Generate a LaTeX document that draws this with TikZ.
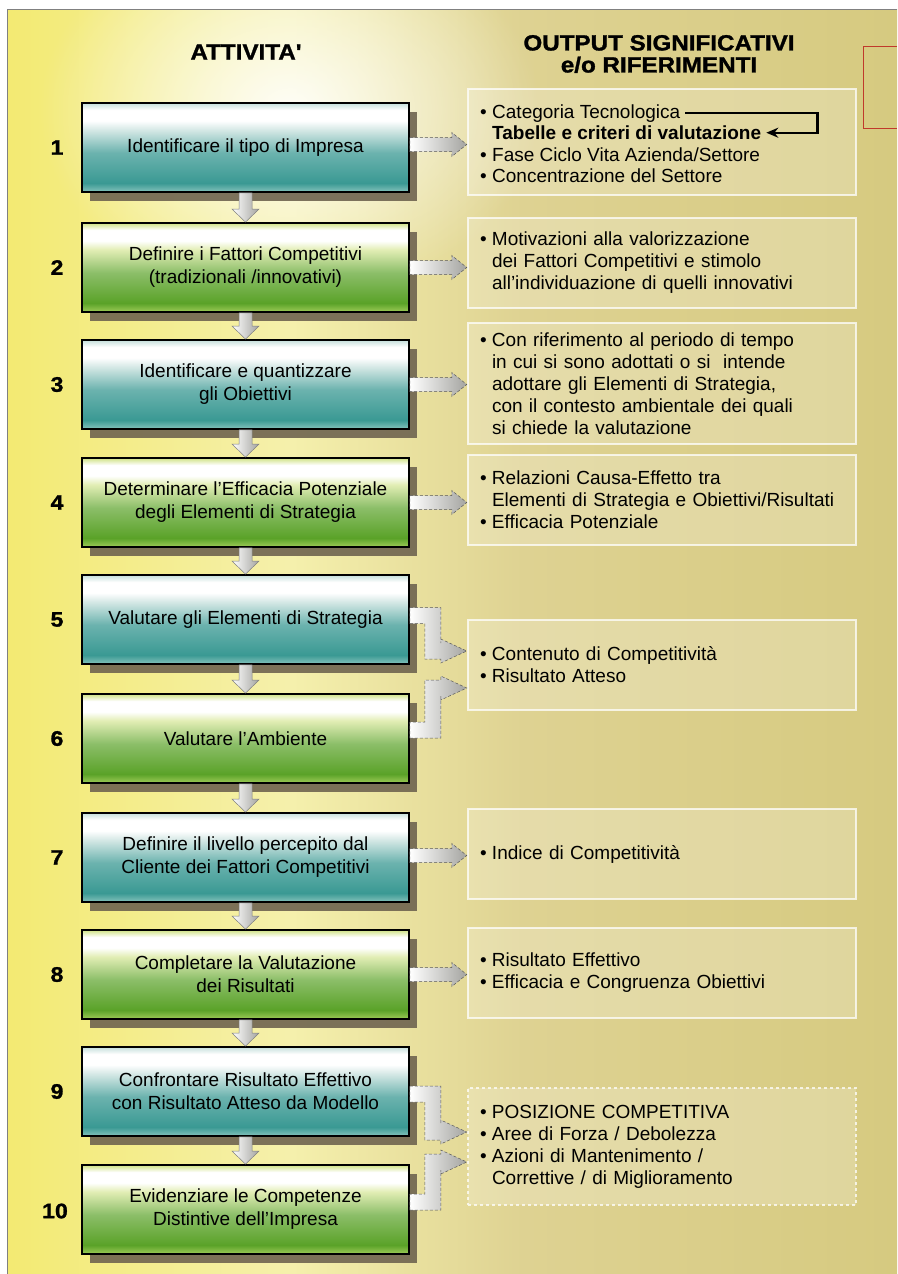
\documentclass[tikz,border=0pt]{standalone}
\usepackage{fontspec}
\setmainfont{Liberation Sans}
\newfontfamily\headfont[FakeStretch=1.1, FakeBold=1.3]{Liberation Sans}
\usepackage{tikz}
\usepackage{xcolor}
\usetikzlibrary{shapes, positioning, calc, shadows, fadings, arrows.meta}

\definecolor{bgL}{HTML}{F3EA72}
\definecolor{bgM}{HTML}{F5F0AC}
\definecolor{bgK}{HTML}{DED292}
\definecolor{bgR}{HTML}{D6CA80}
\definecolor{tealD}{HTML}{3A9993}
\definecolor{tealM}{HTML}{86C3BC}
\definecolor{tealL}{HTML}{C4DFDB}
\definecolor{greenD}{HTML}{5AA228}
\definecolor{greenM}{HTML}{9ECB58}
\definecolor{greenL}{HTML}{CFE283}
\definecolor{shadowc}{HTML}{6F6450}
\definecolor{arrowg}{HTML}{A4A4A0}
\definecolor{redbox}{HTML}{C0392B}

\pgfdeclarehorizontalshading{bgshade}{100bp}{color(0bp)=(bgL); color(25bp)=(bgL); color(41bp)=(bgM); color(54bp)=(bgK); color(75bp)=(bgR); color(100bp)=(bgR)}
\pgfdeclareverticalshading{tealshade}{100bp}{color(0bp)=(tealM); color(25bp)=(tealM); color(30bp)=(tealD); color(47bp)=(tealD!75!white); color(60bp)=(tealL!70!white); color(65bp)=(white); color(71bp)=(white); color(75bp)=(tealL); color(100bp)=(tealL)}
\pgfdeclareverticalshading{greenshade}{100bp}{color(0bp)=(greenM); color(25bp)=(greenM); color(30bp)=(greenD); color(47bp)=(greenD!70!white); color(60bp)=(greenL!60!white); color(65bp)=(white); color(71bp)=(white); color(75bp)=(greenL); color(100bp)=(greenL)}
\tikzfading[name=glowfade, inner color=transparent!0, outer color=transparent!100]

\newcommand{\otfont}{\fontsize{19}{22}\selectfont}
\newcommand{\itm}{\makebox[12pt][l]{\textbullet}}
\newcommand{\cnt}{\hspace*{12pt}}

\tikzset{
  act/.style={draw=black, line width=1.8pt, minimum width=327pt, minimum height=89pt, align=center,
    font=\fontsize{19}{23}\selectfont, shade,
    drop shadow={shadow xshift=8pt, shadow yshift=-9pt, fill=shadowc, opacity=0.9}},
  tealbox/.style={act, shading=tealshade},
  greenbox/.style={act, shading=greenshade},
  num/.style={font=\headfont\fontsize{21}{24}\bfseries\selectfont},
  head/.style={font=\headfont\fontsize{22}{22}\bfseries\selectfont, align=center},
  outbox/.style={draw=white, draw opacity=0.75, line width=2.5pt, fill=white, fill opacity=0.22,
    text opacity=1, minimum width=388pt, text width=364pt, inner xsep=12pt, align=left, font=\otfont},
  otext/.style={anchor=base west, inner sep=5pt, font=\otfont},
  varr/.style={left color=white, right color=arrowg, draw=gray, line width=0.5pt},
  harr/.style={left color=white, right color=arrowg, draw=gray!70!black, densely dashed, line width=0.5pt}
}

\newcommand{\varrow}[2]{%
  \draw[varr] let \p1=(#1), \p2=(#2) in
    (\x1-6.5pt,\y1) -- (\x1-6.5pt,\y2+13pt) -- (\x1-13.5pt,\y2+13pt) -- (\x1,\y2)
    -- (\x1+13.5pt,\y2+13pt) -- (\x1+6.5pt,\y2+13pt) -- (\x1+6.5pt,\y1) -- cycle;}
\newcommand{\harrow}[2]{%
  \draw[harr] let \p1=(#1), \p2=(#1 -| #2) in
    (\x1,\y1+7pt) -- (\x2-15pt,\y1+7pt) -- (\x2-15pt,\y1+12pt) -- (\x2,\y1)
    -- (\x2-15pt,\y1-12pt) -- (\x2-15pt,\y1-7pt) -- (\x1,\y1-7pt) -- cycle;}
\newcommand{\earrow}[3]{%
  \draw[harr] let \p1=(#1), \p2=(#2) in
    (\x1,{\y1+(#3)*8pt}) -- (\x2-26pt,{\y1+(#3)*8pt}) -- (\x2-26pt,{\y2+(#3)*8pt})
    -- (\x2-26pt,{\y2+(#3)*12pt}) -- (\x2,\y2) -- (\x2-26pt,{\y2-(#3)*12pt})
    -- (\x2-26pt,{\y2-(#3)*8pt}) -- (\x2-42pt,{\y2-(#3)*8pt}) -- (\x2-42pt,{\y1-(#3)*8pt})
    -- (\x1,{\y1-(#3)*8pt}) -- cycle;}

\begin{document}
\begin{tikzpicture}[x=1pt, y=-1pt]
        \useasboundingbox (0,0) rectangle (897,1274);
        \fill[white] (0,0) rectangle (897,1274);
        \shade[shading=bgshade] (7,9) rectangle (897,1274);
        \fill[white, path fading=glowfade, fill opacity=0.9] (290,110) ellipse [x radius=250pt, y radius=190pt];
        \draw[gray, line width=0.8pt] (7,1274) -- (7,9) -- (897,9);
        \draw[redbox, line width=1pt] (897,46) -- (863,46) -- (863,128) -- (897,128);

        \node[head] (H1) at (246,52) {ATTIVITA'};
        \node[head] (H2) at (659,54) {OUTPUT SIGNIFICATIVI\\e/o RIFERIMENTI};

        \node[outbox, minimum height=106pt] (O1) at (662,142) {};
        \node[otext] (T1) at (475,118) {\itm Categoria Tecnologica};
        \node[otext] (T2) at (475,139.5) {\cnt\textbf{Tabelle e criteri di valutazione}};
        \node[otext] (T3) at (475,161) {\itm Fase Ciclo Vita Azienda/Settore};
        \node[otext] (T4) at (475,182.5) {\itm Concentrazione del Settore};
        \draw[line width=2.2pt, -{Stealth[length=12pt, width=10pt]}] (T1.east) -- ++(132,0) |- (T2.east);

        \node[outbox, minimum height=90pt] (O2) at (662,263) {\itm Motivazioni alla valorizzazione\\\cnt dei Fattori Competitivi e stimolo\\\cnt all'individuazione di quelli innovativi};
        \node[outbox, minimum height=121pt] (O3) at (662,383.5) {\itm Con riferimento al periodo di tempo\\\cnt in cui si sono adottati o si~ intende\\\cnt adottare gli Elementi di Strategia,\\\cnt con il contesto ambientale dei quali\\\cnt si chiede la valutazione};
        \node[outbox, minimum height=90pt] (O4) at (662,500) {\itm Relazioni Causa-Effetto tra\\\cnt Elementi di Strategia e Obiettivi/Risultati\\\itm Efficacia Potenziale};
        \node[outbox, minimum height=90pt] (O56) at (662,665) {\itm Contenuto di Competitivit\`a\\\itm Risultato Atteso};
        \node[outbox, minimum height=90pt] (O7) at (662,854) {\itm Indice di Competitivit\`a};
        \node[outbox, minimum height=90pt] (O8) at (662,973) {\itm Risultato Effettivo\\\itm Efficacia e Congruenza Obiettivi};
        \node[outbox, dashed, minimum height=117pt] (O910) at (662,1146.5) {\itm POSIZIONE COMPETITIVA\\\itm Aree di Forza / Debolezza\\\itm Azioni di Mantenimento /\\\cnt Correttive / di Miglioramento};

        \node[tealbox] (A1) at (245.5,147.5) {Identificare il tipo di Impresa};
        \node[greenbox] (A2) at (245.5,267.5) {Definire i Fattori Competitivi\\(tradizionali /innovativi)};
        \node[tealbox] (A3) at (245.5,384.5) {Identificare e quantizzare\\gli Obiettivi};
        \node[greenbox] (A4) at (245.5,502.5) {Determinare l'Efficacia Potenziale\\degli Elementi di Strategia};
        \node[tealbox] (A5) at (245.5,619.5) {Valutare gli Elementi di Strategia};
        \node[greenbox] (A6) at (245.5,738.5) {Valutare l'Ambiente};
        \node[tealbox] (A7) at (245.5,857.5) {Definire il livello percepito dal\\Cliente dei Fattori Competitivi};
        \node[greenbox] (A8) at (245.5,974.5) {Completare la Valutazione\\dei Risultati};
        \node[tealbox] (A9) at (245.5,1091.5) {Confrontare Risultato Effettivo\\con Risultato Atteso da Modello};
        \node[greenbox] (A10) at (245.5,1209.5) {Evidenziare le Competenze\\Distintive dell'Impresa};

        \node[num] (N1) at (57,147.5) {1};
        \node[num] (N2) at (57,267.5) {2};
        \node[num] (N3) at (57,384.5) {3};
        \node[num] (N4) at (57,502.5) {4};
        \node[num] (N5) at (57,619.5) {5};
        \node[num] (N6) at (57,738.5) {6};
        \node[num] (N7) at (57,857.5) {7};
        \node[num] (N8) at (57,974.5) {8};
        \node[num] (N9) at (57,1091.5) {9};
        \node[num] (N10) at (55,1211) {10};

        \varrow{A1.south}{A2.north}
        \varrow{A2.south}{A3.north}
        \varrow{A3.south}{A4.north}
        \varrow{A4.south}{A5.north}
        \varrow{A5.south}{A6.north}
        \varrow{A6.south}{A7.north}
        \varrow{A7.south}{A8.north}
        \varrow{A8.south}{A9.north}
        \varrow{A9.south}{A10.north}

        \harrow{[yshift=3pt]A1.east}{O1.west}
        \harrow{A2.east}{O2.west}
        \harrow{A3.east}{O3.west}
        \harrow{A4.east}{O4.west}
        \harrow{[yshift=2pt]A7.east}{O7.west}
        \harrow{A8.east}{O8.west}
        \earrow{[yshift=4pt]A5.east}{[yshift=14pt]O56.west}{1}
        \earrow{[yshift=8.5pt]A6.east}{[yshift=-23pt]O56.west}{-1}
        \earrow{[yshift=-2.5pt]A9.east}{[yshift=14.5pt]O910.west}{1}
        \earrow{[yshift=7.5pt]A10.east}{[yshift=-15.5pt]O910.west}{-1}

      \end{tikzpicture}
\end{document}
